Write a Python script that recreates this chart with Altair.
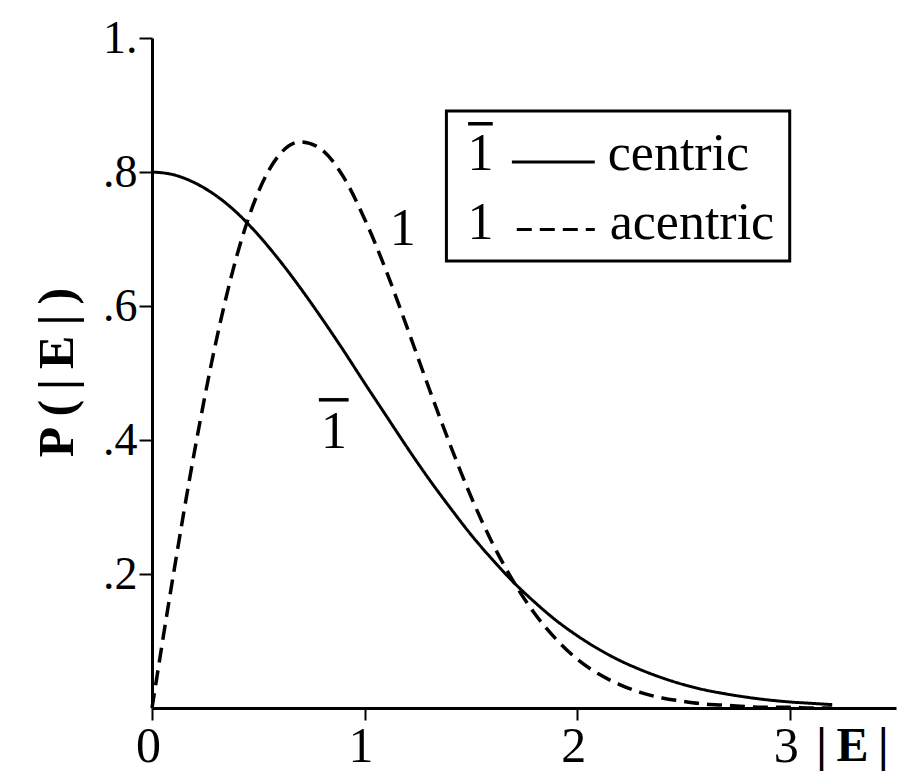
import altair as alt
import pandas as pd

# ---- data ----
E = [0.0, 0.1, 0.2, 0.3, 0.4, 0.5, 0.6, 0.7, 0.8, 0.9, 1.0, 1.1, 1.2, 1.3, 1.4, 1.5,
     1.6, 1.7, 1.8, 1.9, 2.0, 2.1, 2.2, 2.3, 2.4, 2.5, 2.6, 2.7, 2.8, 2.9, 3.0, 3.1, 3.2]
CENTRIC = [0.800, 0.796, 0.784, 0.765, 0.739, 0.706, 0.668, 0.626, 0.581, 0.534, 0.485,
           0.437, 0.389, 0.343, 0.300, 0.259, 0.222, 0.188, 0.158, 0.131, 0.108, 0.088,
           0.071, 0.057, 0.045, 0.035, 0.027, 0.021, 0.016, 0.012, 0.009, 0.007, 0.005]
ACENTRIC = [0.000, 0.198, 0.383, 0.545, 0.676, 0.770, 0.826, 0.845, 0.833, 0.793, 0.730,
            0.654, 0.568, 0.480, 0.395, 0.316, 0.247, 0.189, 0.141, 0.103, 0.073, 0.051,
            0.035, 0.023, 0.015, 0.010, 0.006, 0.004, 0.002, 0.001, 0.001, 0.000, 0.000]
SERIES = ["centric", "acentric"]
X_TICKS = [0, 1, 2, 3]
Y_TICKS = [0.2, 0.4, 0.6, 0.8, 1.0]

# legend / annotation contents
LEGEND_MARKS = ["1", "1"]
LEGEND_LABELS = ["centric", "acentric"]

FONT = "Liberation Serif"

curves = pd.DataFrame({
    "x": E * 2,
    "y": CENTRIC + ACENTRIC,
    "series": [SERIES[0]] * len(E) + [SERIES[1]] * len(E),
})

xs = alt.Scale(domain=[0, 3.5], nice=False, zero=False)
ys = alt.Scale(domain=[0, 1], nice=False, zero=False)

base_lines = alt.Chart(curves).mark_line(color="black", interpolate="monotone").encode(
    x=alt.X("x:Q", scale=xs, axis=alt.Axis(
        values=X_TICKS, format="d", labelFontSize=50, labelPadding=1, labelFont=FONT,
        labelFlush=False, labelOffset=-4,
        title="|\u2009E\u2009|", titleFont=FONT, titleFontSize=48, titleFontWeight="bold",
        titleX=700, titleY=52, titleAlign="center", titleBaseline="alphabetic", titleAngle=0,
        tickSize=12, tickWidth=2, domainWidth=3)),
    y=alt.Y("y:Q", scale=ys, axis=alt.Axis(
        values=Y_TICKS, labelExpr="datum.value == 1 ? '1.' : substring(format(datum.value, '.1f'), 1)",
        labelFontSize=46, labelPadding=2, labelFont=FONT, labelFlush=False,
        title="P\u2009(\u2009|\u2009E\u2009|\u2009)", titleFont=FONT, titleFontSize=50, titleFontWeight="bold",
        titleX=-80, titleY=334, titleAlign="center", titleBaseline="alphabetic", titleAngle=270,
        tickSize=13, tickWidth=2, domainWidth=3)),
    strokeDash=alt.StrokeDash("series:N", scale=alt.Scale(domain=SERIES, range=[[1, 0], [15, 8]]), legend=None),
    strokeWidth=alt.StrokeWidth("series:N", scale=alt.Scale(domain=SERIES, range=[3, 3.5]), legend=None),
    detail="series:N",
)

# legend box (positions in data units)
box = alt.Chart(pd.DataFrame({"x": [1.385], "x2": [3.0], "y": [0.891], "y2": [0.667]})).mark_rect(
    fill="white", stroke="black", strokeWidth=3).encode(
    x=alt.X("x:Q"), x2="x2:Q", y=alt.Y("y:Q"), y2="y2:Q")

leg_lines = alt.Chart(pd.DataFrame({
    "x": [1.693, 1.716], "x2": [2.083, 2.083], "y": [0.815, 0.714], "series": SERIES})).mark_rule(
    color="black", strokeWidth=3).encode(
    x=alt.X("x:Q"), x2="x2:Q", y=alt.Y("y:Q"),
    strokeDash=alt.StrokeDash("series:N", scale=alt.Scale(domain=SERIES, range=[[1, 0], [12, 7]]), legend=None))

leg_marks = alt.Chart(pd.DataFrame({"x": [1.545, 1.545], "y": [0.803, 0.700], "t": LEGEND_MARKS})).mark_text(
    font=FONT, fontSize=52, align="center", baseline="alphabetic", color="black").encode(
    x=alt.X("x:Q"), y=alt.Y("y:Q"), text="t:N")

leg_labels = alt.Chart(pd.DataFrame({"x": [2.144, 2.153], "y": [0.803, 0.700], "t": LEGEND_LABELS})).mark_text(
    font=FONT, fontSize=52, align="left", baseline="alphabetic", color="black").encode(
    x=alt.X("x:Q"), y=alt.Y("y:Q"), text="t:N")

# curve annotations
ann = alt.Chart(pd.DataFrame({"x": [1.18, 0.856], "y": [0.691, 0.388], "t": ["1", "1"]})).mark_text(
    font=FONT, fontSize=52, align="center", baseline="alphabetic", color="black").encode(
    x=alt.X("x:Q"), y=alt.Y("y:Q"), text="t:N")

# overlines for the "1-bar" symbols
overlines = alt.Chart(pd.DataFrame({"x": [1.487, 0.785], "x2": [1.603, 0.925], "y": [0.872, 0.460]})).mark_rule(
    color="black", strokeWidth=3.5).encode(
    x=alt.X("x:Q"), x2="x2:Q", y=alt.Y("y:Q"))

chart = alt.layer(base_lines, box, leg_lines, leg_marks, leg_labels, ann, overlines).properties(
    width=744, height=670,
    autosize=alt.AutoSizeParams(type="none"),
    padding={"left": 144, "top": 30, "right": 3, "bottom": 65},
    background="white",
).configure_view(stroke="transparent").configure_axis(
    grid=False, domainColor="black", tickColor="black", labelColor="black", titleColor="black",
)

chart.save("out.html", embed_options={"renderer": "svg", "actions": False})
